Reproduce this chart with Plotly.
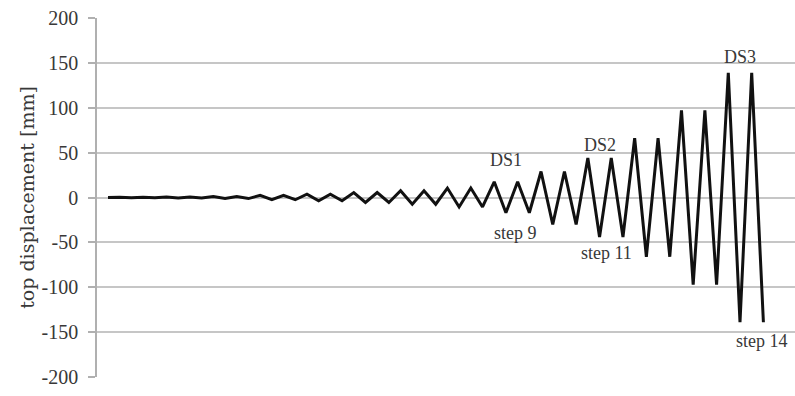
import plotly.graph_objects as go

# Loading-protocol sample index and top displacement [mm] (14 steps, 2 cycles each)
sample_index = list(range(57))
top_displacement = [
    0,
    0.3, -0.3, 0.3, -0.3,        # step 1
    0.5, -0.5, 0.5, -0.5,        # step 2
    1.2, -1.2, 1.2, -1.2,        # step 3
    2.5, -2.5, 2.5, -2.5,        # step 4
    3.7, -3.7, 3.7, -3.7,        # step 5
    5.5, -5.5, 5.5, -5.5,        # step 6
    7.5, -7.5, 7.5, -7.5,        # step 7
    10.5, -10.5, 10.5, -10.5,    # step 8
    17.5, -17, 17.5, -17,        # step 9
    29, -30, 29, -30,            # step 10
    44, -44, 44, -44,            # step 11
    66, -66, 66, -66,            # step 12
    97, -97, 97, -97,            # step 13
    139, -139, 139, -139,        # step 14
]

y_ticks = [-200, -150, -100, -50, 0, 50, 100, 150, 200]
y_tick_text = ["-200", "-150", "-100", "-50", "0", "50", "100", "150", "200"]

label_text = ["DS1", "DS2", "DS3", "step 9", "step 11", "step 14"]
label_x = [34, 42, 54, 34.8, 42.6, 55.9]
label_y = [42, 58, 156, -39, -62, -160]

SERIF = "Liberation Serif"
TXT = "#383838"

fig = go.Figure()
fig.add_trace(go.Scatter(
    x=sample_index, y=top_displacement, mode="lines",
    line=dict(color="#111111", width=3), showlegend=False,
))

for t, x, y in zip(label_text, label_x, label_y):
    fig.add_annotation(x=x, y=y, text=t, showarrow=False,
                       font=dict(family=SERIF, size=18, color=TXT))

fig.update_layout(
    width=795, height=396,
    margin=dict(l=97, r=0, t=18, b=19),
    paper_bgcolor="white", plot_bgcolor="white",
    font=dict(family=SERIF, size=19, color=TXT),
    xaxis=dict(range=[-0.94, 58.7], showticklabels=False, showgrid=False,
               zeroline=False, showline=False, ticks=""),
    yaxis=dict(range=[-200, 200], tickvals=y_ticks, ticktext=y_tick_text,
               showgrid=True, gridcolor="#c6c6c6", gridwidth=1.5,
               zeroline=False, showline=True, linecolor="#b0b0b0", linewidth=1.5,
               ticks="outside", ticklen=7, tickcolor="#b0b0b0", tickwidth=1.5,
               ticklabelstandoff=6,
               title=dict(text="top displacement [mm]", standoff=2,
                          font=dict(family="DejaVu Serif", size=19, color=TXT)),
               tickfont=dict(family=SERIF, size=20, color=TXT)),
)

fig.write_html("out.html")
